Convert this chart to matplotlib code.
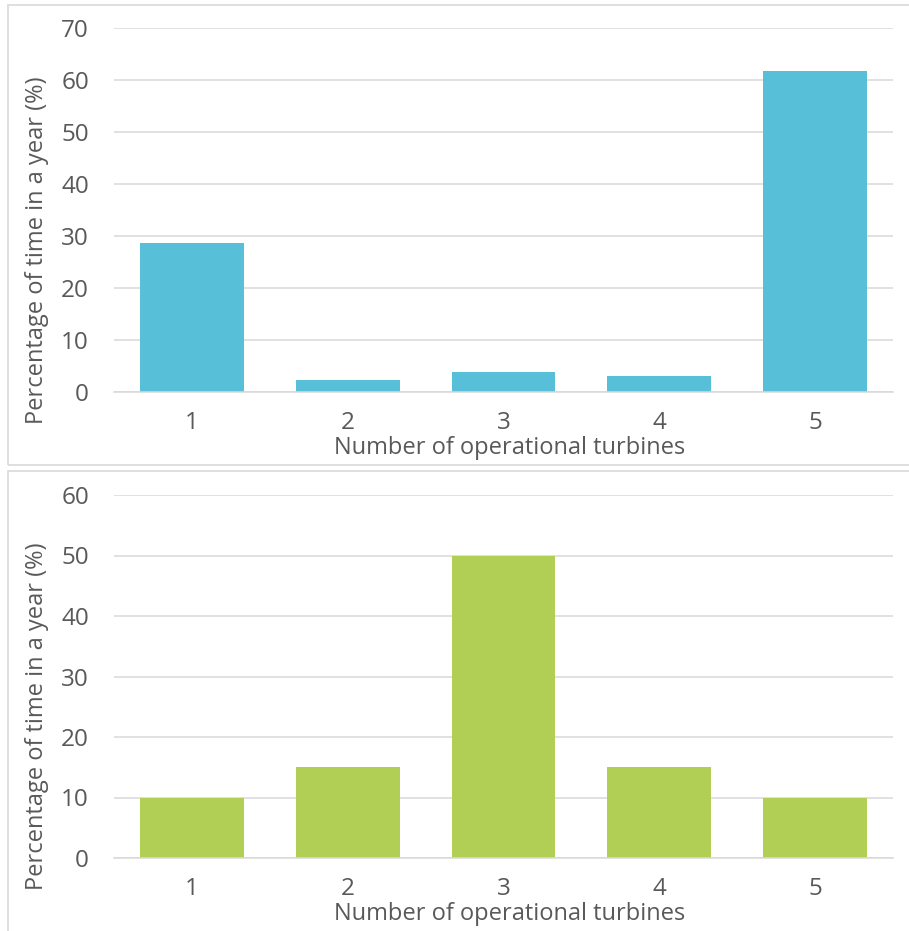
import matplotlib
matplotlib.use("Agg")
import matplotlib.pyplot as plt
from matplotlib.patches import Rectangle

# Operational turbine counts and share of the year for each
turbines = [1, 2, 3, 4, 5]
tick_labels = ["1", "2", "3", "4", "5"]
share_top = [28.6, 2.3, 3.9, 3.1, 61.8]
share_bottom = [10, 15, 50, 15, 10]

top_yticks = [0, 10, 20, 30, 40, 50, 60, 70]
bottom_yticks = [0, 10, 20, 30, 40, 50, 60]

W, H = 909, 931
TEXT = "#595959"
GRID = "#D9D9D9"
plt.rcParams["font.family"] = ["Open Sans", "DejaVu Sans"]

fig = plt.figure(figsize=(W / 100, H / 100), dpi=100)


def px_axes(left, top, right, bottom):
    return fig.add_axes([left / W, 1 - bottom / H, (right - left) / W, (bottom - top) / H])


def panel_frame(x0, y0, x1, y1):
    fig.patches.append(Rectangle((x0 / W, 1 - y1 / H), (x1 - x0) / W, (y1 - y0) / H,
                                 transform=fig.transFigure, fill=False,
                                 edgecolor=GRID, linewidth=1.2))


def draw(ax, values, yticks, color, ylab_y):
    ax.set_axisbelow(True)
    ax.bar(turbines, values, width=0.667, color=color, edgecolor="none", zorder=2)
    ax.set_xlim(0.5, 5.5)
    ax.set_ylim(yticks[0], yticks[-1])
    ax.set_yticks(yticks)
    ax.set_xticks(turbines)
    ax.set_xticklabels(tick_labels)
    ax.yaxis.grid(True, color=GRID, linewidth=1.1)
    for s in ("top", "right", "left"):
        ax.spines[s].set_visible(False)
    ax.spines["bottom"].set_color(GRID)
    ax.spines["bottom"].set_linewidth(1.1)
    ax.tick_params(axis="both", length=0, labelsize=17.5, colors=TEXT)
    ax.tick_params(axis="y", pad=18)
    ax.tick_params(axis="x", pad=14)
    ax.set_xlabel("Number of operational turbines", fontsize=17, color=TEXT, va="center")
    ax.set_ylabel("Percentage of time in a year (%)", fontsize=17, color=TEXT, va="center")
    ax.xaxis.set_label_coords(0.508, -56 / ax.bbox.height)
    ax.yaxis.set_label_coords(-77 / ax.bbox.width, ylab_y)


panel_frame(8, 5, 915, 465)
panel_frame(8, 471, 915, 940)

ax1 = px_axes(114, 28, 893, 392)
draw(ax1, share_top, top_yticks, "#57BFD7", 0.39)

ax2 = px_axes(114, 495, 893, 858)
draw(ax2, share_bottom, bottom_yticks, "#B2CF55", 0.39)

fig.savefig("out.png", dpi=100, facecolor="white")
